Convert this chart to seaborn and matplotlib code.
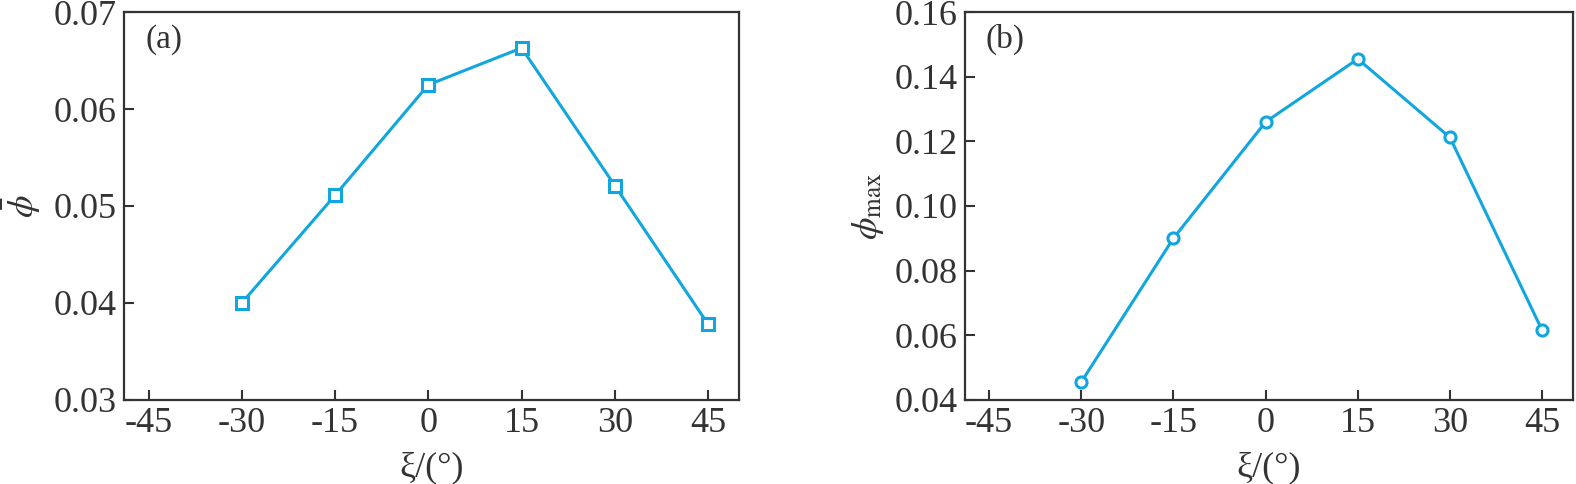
import matplotlib
matplotlib.use("Agg")
import matplotlib.pyplot as plt
import seaborn as sns
import pandas as pd

xi = [-30, -15, 0, 15, 30, 45]
phi_mean = [0.0400, 0.0511, 0.0625, 0.0663, 0.0521, 0.0378]
phi_max = [0.0455, 0.0900, 0.1260, 0.1455, 0.1212, 0.0615]
xticks = [-45, -30, -15, 0, 15, 30, 45]

sns.set_style("white")
plt.rcParams['font.family'] = ['Liberation Serif', 'DejaVu Serif']
plt.rcParams['mathtext.fontset'] = 'stix'

color = "#12a6de"
fig = plt.figure(figsize=(15.76, 4.84), dpi=100)
axA = fig.add_axes([0.0785, 0.174, 0.3905, 0.801])
axB = fig.add_axes([0.612, 0.174, 0.386, 0.801])

dfA = pd.DataFrame({"xi": xi, "v": phi_mean})
dfB = pd.DataFrame({"xi": xi, "v": phi_max})

sns.lineplot(data=dfA, x="xi", y="v", ax=axA, color=color, lw=2.2, marker="s",
             markersize=8, markerfacecolor="white", markeredgecolor=color, markeredgewidth=2.2)
sns.lineplot(data=dfB, x="xi", y="v", ax=axB, color=color, lw=2.2, marker="o",
             markersize=8, markerfacecolor="white", markeredgecolor=color, markeredgewidth=2.2)

axA.set_ylim(0.03, 0.07)
axA.set_yticks([0.03, 0.04, 0.05, 0.06, 0.07])
axA.set_yticklabels(["0.03", "0.04", "0.05", "0.06", "0.07"])
axB.set_ylim(0.04, 0.16)
axB.set_yticks([0.04, 0.06, 0.08, 0.10, 0.12, 0.14, 0.16])
axB.set_yticklabels(["0.04", "0.06", "0.08", "0.10", "0.12", "0.14", "0.16"])

for ax, lab, yl, lp in [(axA, "(a)", r"$\bar{\phi}$", 8), (axB, "(b)", r"$\phi_{\mathrm{max}}$", 6)]:
    ax.set_xlim(-49, 50)
    ax.set_xticks(xticks)
    ax.set_xticklabels([str(t) for t in xticks])
    ax.tick_params(direction="in", length=7, width=1.5, labelsize=26, colors="#333333",
                   left=True, bottom=True, top=False, right=False, pad=5)
    for s in ax.spines.values():
        s.set_color("#333333")
        s.set_linewidth(1.6)
    ax.set_xlabel("ξ/(°)", fontsize=26, color="#333333", labelpad=8)
    ax.set_ylabel(yl, fontsize=26, color="#333333", labelpad=lp)
    ax.text(0.035, 0.93, lab, transform=ax.transAxes, fontsize=24, color="#333333",
            ha="left", va="center")

fig.savefig("out.png", dpi=100)
